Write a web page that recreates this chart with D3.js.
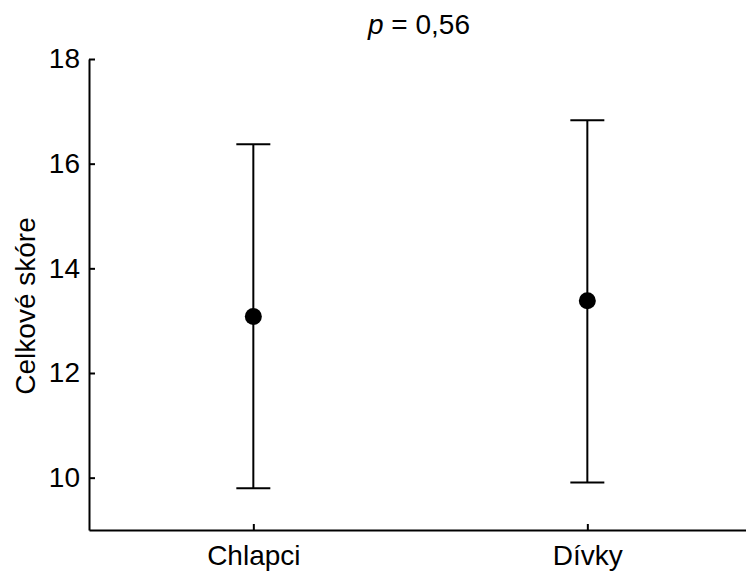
<!DOCTYPE html>
<html>
<head>
<meta charset="utf-8">
<script src="https://cdn.jsdelivr.net/npm/d3@7"></script>
<style>
  body { margin: 0; background: #fff; }
  svg { display: block; font-family: "Liberation Sans", Arial, Helvetica, sans-serif; }
</style>
</head>
<body>
<div id="chart"></div>
<script>
// groups and their mean +/- SD
var groups = ["Chlapci", "Dívky"];
var means = [13.08, 13.38];
var lower = [9.80, 9.91];
var upper = [16.37, 16.83];
var yTicks = [10, 12, 14, 16, 18];

var w = 746, h = 574;
var margin = {top: 59, right: 0, bottom: 44, left: 89};
var fs = "28px";

var svg = d3.select("#chart")
    .append("svg")
    .attr("width", w)
    .attr("height", h);

// x as linear index so the axis can run past the last group
var x = d3.scaleLinear()
    .domain([0.508, 2.49])
    .range([margin.left, w + 5]);

var y = d3.scaleLinear()
    .domain([9, 18])
    .range([h - margin.bottom, margin.top]);

// axes
var yAxis = d3.axisLeft(y)
    .tickValues(yTicks)
    .tickSizeInner(-6)
    .tickSizeOuter(0)
    .tickPadding(9);

var xAxis = d3.axisBottom(x)
    .tickValues([1, 2])
    .tickFormat(function(d) { return groups[d - 1]; })
    .tickSizeInner(-6)
    .tickSizeOuter(0)
    .tickPadding(15);

var gy = svg.append("g")
    .attr("transform", "translate(" + margin.left + ",0)")
    .call(yAxis);

var gx = svg.append("g")
    .attr("transform", "translate(0," + (h - margin.bottom) + ")")
    .call(xAxis);

svg.selectAll(".domain").attr("stroke", "#000").attr("stroke-width", 2);
svg.selectAll(".tick line").attr("stroke", "#000").attr("stroke-width", 2);
svg.selectAll(".tick text")
    .attr("fill", "#000")
    .style("font-size", fs)
    .style("font-family", "'Liberation Sans', Arial, Helvetica, sans-serif");

// error bars
var bars = svg.append("g");
var idx = groups.map(function(d, i) { return i; });

bars.selectAll("line.whisker")
    .data(idx)
    .enter().append("line")
    .attr("class", "whisker")
    .attr("x1", function(i) { return x(i + 1); })
    .attr("x2", function(i) { return x(i + 1); })
    .attr("y1", function(i) { return y(upper[i]); })
    .attr("y2", function(i) { return y(lower[i]); })
    .attr("stroke", "#000")
    .attr("stroke-width", 2);

bars.selectAll("line.capTop")
    .data(idx)
    .enter().append("line")
    .attr("class", "capTop")
    .attr("x1", function(i) { return x(i + 1) - 17; })
    .attr("x2", function(i) { return x(i + 1) + 17; })
    .attr("y1", function(i) { return y(upper[i]); })
    .attr("y2", function(i) { return y(upper[i]); })
    .attr("stroke", "#000")
    .attr("stroke-width", 2);

bars.selectAll("line.capBottom")
    .data(idx)
    .enter().append("line")
    .attr("class", "capBottom")
    .attr("x1", function(i) { return x(i + 1) - 17; })
    .attr("x2", function(i) { return x(i + 1) + 17; })
    .attr("y1", function(i) { return y(lower[i]); })
    .attr("y2", function(i) { return y(lower[i]); })
    .attr("stroke", "#000")
    .attr("stroke-width", 2);

bars.selectAll("circle")
    .data(idx)
    .enter().append("circle")
    .attr("cx", function(i) { return x(i + 1); })
    .attr("cy", function(i) { return y(means[i]); })
    .attr("r", 8.5)
    .attr("fill", "#000");

// title
var title = svg.append("text")
    .attr("x", 419)
    .attr("y", 34)
    .attr("text-anchor", "middle")
    .style("font-size", fs);
title.append("tspan").style("font-style", "italic").text("p");
title.append("tspan").text(" = 0,56");

// y label
svg.append("text")
    .attr("transform", "rotate(-90)")
    .attr("x", -306)
    .attr("y", 35)
    .attr("text-anchor", "middle")
    .style("font-size", fs)
    .text("Celkové skóre");
</script>
</body>
</html>
